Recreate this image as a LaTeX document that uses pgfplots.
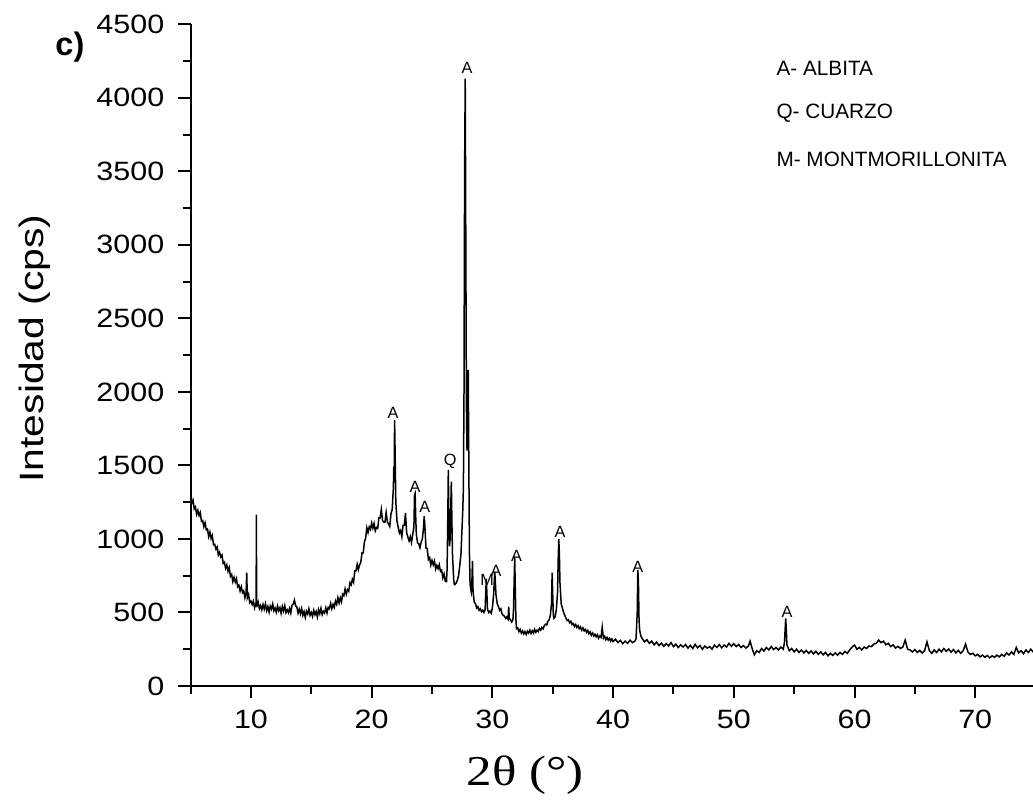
\documentclass[border=0pt]{standalone}
\usepackage{fontspec}
\setmainfont{Liberation Sans}
\newfontfamily\seriffont{Liberation Serif}
\usepackage{graphicx}
\usepackage{pgfplots}
\pgfplotsset{compat=1.18}
\usepackage{pgfplotstable}
\pgfplotstableread{
x y
5.0 1288
5.1 1243
5.2 1265
5.3 1205
5.4 1218
5.5 1167
5.6 1194
5.7 1159
5.8 1180
5.9 1120
6.0 1125
6.1 1083
6.2 1110
6.3 1062
6.4 1067
6.5 1015
6.6 1047
6.7 1002
6.8 1023
6.9 960
7.0 963
7.1 931
7.2 946
7.3 891
7.4 910
7.5 878
7.6 891
7.7 834
7.8 842
7.9 800
8.0 823
8.1 780
8.2 805
8.3 745
8.4 758
8.5 710
8.6 739
8.7 706
8.8 730
8.9 675
9.0 685
9.1 646
9.2 675
9.3 635
9.4 647
9.5 600
9.6 637
9.65 770
9.7 600
9.8 623
9.9 567
10.0 578
10.1 554
10.2 576
10.3 531
10.4 560
10.43 555
10.45 1165
10.47 550
10.5 544
10.6 571
10.7 526
10.8 547
10.9 518
11.0 554
11.1 523
11.2 559
11.3 513
11.4 540
11.5 502
11.6 543
11.7 522
11.8 557
11.9 511
12.0 530
12.1 502
12.2 543
12.3 512
12.4 533
12.5 495
12.6 541
12.7 510
12.8 546
12.9 499
13.0 518
13.1 499
13.2 528
13.3 496
13.4 550
13.5 556
13.6 585
13.7 545
13.8 538
13.9 495
14.0 523
14.1 491
14.2 526
14.3 480
14.4 506
14.5 467
14.6 509
14.7 489
14.8 525
14.9 480
15.0 500
15.1 473
15.2 515
15.3 485
15.4 507
15.5 470
15.6 519
15.7 491
15.8 529
15.9 485
16.0 508
16.1 496
16.2 531
16.3 496
16.4 535
16.5 526
16.6 562
16.7 526
16.8 555
16.9 534
17.0 578
17.1 556
17.2 601
17.3 564
17.4 600
17.5 572
17.6 624
17.7 614
17.8 660
17.9 625
18.0 655
18.1 644
18.2 702
18.3 688
18.4 726
18.5 705
18.6 782
18.7 782
18.8 828
18.9 792
19.0 823
19.1 841
19.2 906
19.3 906
19.4 980
19.5 1006
19.6 1076
19.7 1044
19.8 1082
19.9 1065
20.0 1108
20.1 1073
20.2 1105
20.3 1055
20.4 1078
20.5 1072
20.6 1144
20.7 1144
20.8 1200
20.9 1125
21.0 1115
21.1 1113
21.2 1180
21.3 1115
21.4 1102
21.5 1085
21.6 1172
21.7 1200
21.8 1350
21.83 1490
21.86 1380
21.9 1810
21.95 1550
22.0 1250
22.1 1120
22.2 1080
22.3 1040
22.4 1057
22.5 1015
22.6 1092
22.7 1092
22.8 1175
22.9 1042
23.0 1013
23.1 986
23.2 1016
23.3 976
23.4 1030
23.5 1080
23.55 1300
23.6 1310
23.65 1150
23.7 1030
23.8 974
23.9 967
24.0 940
24.1 978
24.2 1000
24.3 1080
24.35 1155
24.4 1100
24.5 938
24.6 935
24.7 860
24.8 873
24.9 822
25.0 854
25.1 824
25.2 850
25.3 795
25.4 820
25.5 798
25.6 825
25.7 780
25.8 787
25.9 735
26.0 762
26.1 712
26.2 710
26.25 800
26.3 1100
26.35 1470
26.4 1100
26.45 950
26.5 1000
26.55 1200
26.6 1390
26.65 1100
26.7 880
26.8 720
26.85 690
26.9 690
27.0 700
27.1 720
27.2 750
27.3 820
27.4 900
27.5 1100
27.55 1200
27.6 1350
27.65 2000
27.7 3500
27.75 4130
27.8 3000
27.85 1900
27.9 1600
27.95 1700
28.0 2150
28.05 1500
28.1 900
28.15 700
28.2 660
28.25 640
28.3 700
28.35 850
28.4 640
28.5 570
28.6 560
28.7 530
28.8 540
28.9 515
29.0 525
29.1 505
29.2 515
29.3 500
29.4 520
29.45 640
29.5 730
29.55 620
29.6 520
29.7 500
29.8 510
29.9 495
30.0 530
30.1 620
30.2 775
30.25 700
30.3 620
30.4 560
30.5 540
30.6 515
30.7 525
30.8 490
30.9 480
31.0 475
31.1 460
31.2 470
31.3 455
31.35 540
31.4 460
31.5 450
31.6 435
31.7 450
31.75 520
31.8 700
31.85 880
31.9 650
31.95 450
32.0 390
32.1 395
32.2 370
32.3 385
32.4 360
32.5 375
32.6 355
32.7 370
32.8 350
32.9 372
33.0 360
33.1 380
33.2 358
33.3 376
33.4 360
33.5 385
33.6 365
33.7 380
33.8 370
33.9 392
34.0 380
34.1 398
34.2 388
34.3 410
34.4 420
34.5 415
34.6 440
34.7 450
34.8 480
34.9 560
34.95 770
35.0 620
35.05 480
35.1 460
35.2 470
35.3 520
35.4 640
35.45 850
35.5 1000
35.55 900
35.6 700
35.7 560
35.8 530
35.9 500
36.0 480
36.1 460
36.2 445
36.3 450
36.4 430
36.5 440
36.6 418
36.7 425
36.8 405
36.9 418
37.0 398
37.1 410
37.2 390
37.3 402
37.4 380
37.5 395
37.6 375
37.7 385
37.8 365
37.9 378
38.0 355
38.1 368
38.2 345
38.3 360
38.4 340
38.5 352
38.6 335
38.7 348
38.8 325
38.9 340
39.0 330
39.1 400
39.15 360
39.2 325
39.3 338
39.4 315
39.5 330
39.6 312
39.7 325
39.8 305
39.9 320
40.0 302
40.2 318
40.4 295
40.6 310
40.8 288
41.0 305
41.2 290
41.4 312
41.6 295
41.8 305
41.9 320
42.0 500
42.05 790
42.1 700
42.15 450
42.2 380
42.3 340
42.4 325
42.6 300
42.8 315
43.0 290
43.2 305
43.4 280
43.6 298
43.8 275
44.0 292
44.2 270
44.4 288
44.6 272
44.8 295
45.0 268
45.2 285
45.4 262
45.6 280
45.8 265
46.0 282
46.2 258
46.4 276
46.6 255
46.8 283
47.0 260
47.2 275
47.4 250
47.6 272
47.8 258
48.0 268
48.2 250
48.4 278
48.6 262
48.8 282
49.0 260
49.2 278
49.4 265
49.6 290
49.8 270
50.0 288
50.2 268
50.4 282
50.6 262
50.8 275
51.0 258
51.2 270
51.35 305
51.5 260
51.7 212
51.9 240
52.1 228
52.3 255
52.5 238
52.7 262
52.9 245
53.1 268
53.3 248
53.5 262
53.7 245
53.9 265
54.1 250
54.2 300
54.3 460
54.35 380
54.4 280
54.6 240
54.8 255
55.0 232
55.2 250
55.4 228
55.6 245
55.8 225
56.0 242
56.2 222
56.4 238
56.6 218
56.8 236
57.0 215
57.2 232
57.4 212
57.6 228
57.8 205
58.0 222
58.2 208
58.4 225
58.6 210
58.8 228
59.0 215
59.2 235
59.4 222
59.6 245
59.8 265
60.0 278
60.2 250
60.4 262
60.6 245
60.8 265
61.0 255
61.2 272
61.4 268
61.6 285
61.8 290
62.0 312
62.2 295
62.4 305
62.6 280
62.8 290
63.0 268
63.2 280
63.4 258
63.6 270
63.8 255
64.0 265
64.2 312
64.4 250
64.6 245
64.8 232
65.0 248
65.2 228
65.4 242
65.6 225
65.8 238
66.0 300
66.2 240
66.4 222
66.6 245
66.8 228
67.0 250
67.2 232
67.4 255
67.6 236
67.8 252
68.0 230
68.2 248
68.4 225
68.6 242
68.8 222
69.0 240
69.2 285
69.4 230
69.6 215
69.8 222
70.0 205
70.2 215
70.4 198
70.6 210
70.8 195
71.0 208
71.2 192
71.4 205
71.6 195
71.8 210
72.0 198
72.2 215
72.4 202
72.6 225
72.8 210
73.0 232
73.2 215
73.4 262
73.6 225
73.8 240
74.0 220
74.2 245
74.4 228
74.6 250
74.8 232
75.0 248
}\xrd
\begin{document}
\begin{tikzpicture}
\begin{axis}[
  scale only axis,
  width=338pt, height=264.7pt,
  xmin=5, xmax=75, ymin=0, ymax=4500,
  axis lines=left,
  axis line style={-, line width=0.8pt},
  clip=false,
  xtick={10,20,...,70},
  minor xtick={5,15,...,75},
  ytick={0,500,...,4500},
  minor ytick={250,750,...,4250},
  tick align=outside,
  major tick length=5pt,
  minor tick length=3.2pt,
  every tick/.style={black, line width=0.8pt},
  tick label style={font=\fontsize{10.6}{12}\selectfont},
  xticklabel={\scalebox{1.15}[1]{\pgfmathprintnumber[assume math mode=true]{\tick}}},
  yticklabel={\scalebox{1.15}[1]{\pgfmathprintnumber[assume math mode=true,set thousands separator={}]{\tick}}},
  xticklabel style={yshift=-1pt},
  yticklabel style={xshift=-2pt},
  xlabel={\seriffont\fontsize{17}{19}\selectfont\scalebox{1.2}[1]{2θ (°)}},
  xlabel style={at={(axis description cs:0.396,-0.1345)}, anchor=center},
  ylabel={\scalebox{1.21}[1]{Intesidad (cps)}},
  ylabel style={font=\fontsize{13.5}{15}\selectfont, at={(axis description cs:-0.184,0.51)}, anchor=center},
]
\addplot[black, line width=0.6pt] table[x=x, y=y] {\xrd};
\node[font=\bfseries\fontsize{13}{15}\selectfont] at (axis cs:-5.0,4345) {c)};
\begin{scope}[every node/.style={font=\fontsize{6.5}{7}\selectfont, inner sep=0pt}]
\node at (axis cs:27.9,4200) {A};
\node at (axis cs:21.77,1860) {A};
\node at (axis cs:26.5,1530) {Q};
\node at (axis cs:23.6,1353) {A};
\node at (axis cs:24.4,1217) {A};
\node at (axis cs:29.57,720) {M};
\node at (axis cs:30.3,782) {A};
\node at (axis cs:32.0,884) {A};
\node at (axis cs:35.6,1047) {A};
\node at (axis cs:42.04,811) {A};
\node at (axis cs:54.4,505) {A};
\end{scope}
\begin{scope}[every node/.style={font=\fontsize{8.3}{9}\selectfont, anchor=west, inner sep=0pt}]
\node at (axis cs:53.5,4197) {A- ALBITA};
\node at (axis cs:53.5,3892) {Q- CUARZO};
\node at (axis cs:53.5,3584) {M- MONTMORILLONITA};
\end{scope}
\end{axis}
\pgfresetboundingbox
\path[use as bounding box] ([shift={(-76.24pt,-46.8pt)}]current axis.origin) rectangle ([shift={(336.96pt,274.4pt)}]current axis.origin);
\end{tikzpicture}
\end{document}
